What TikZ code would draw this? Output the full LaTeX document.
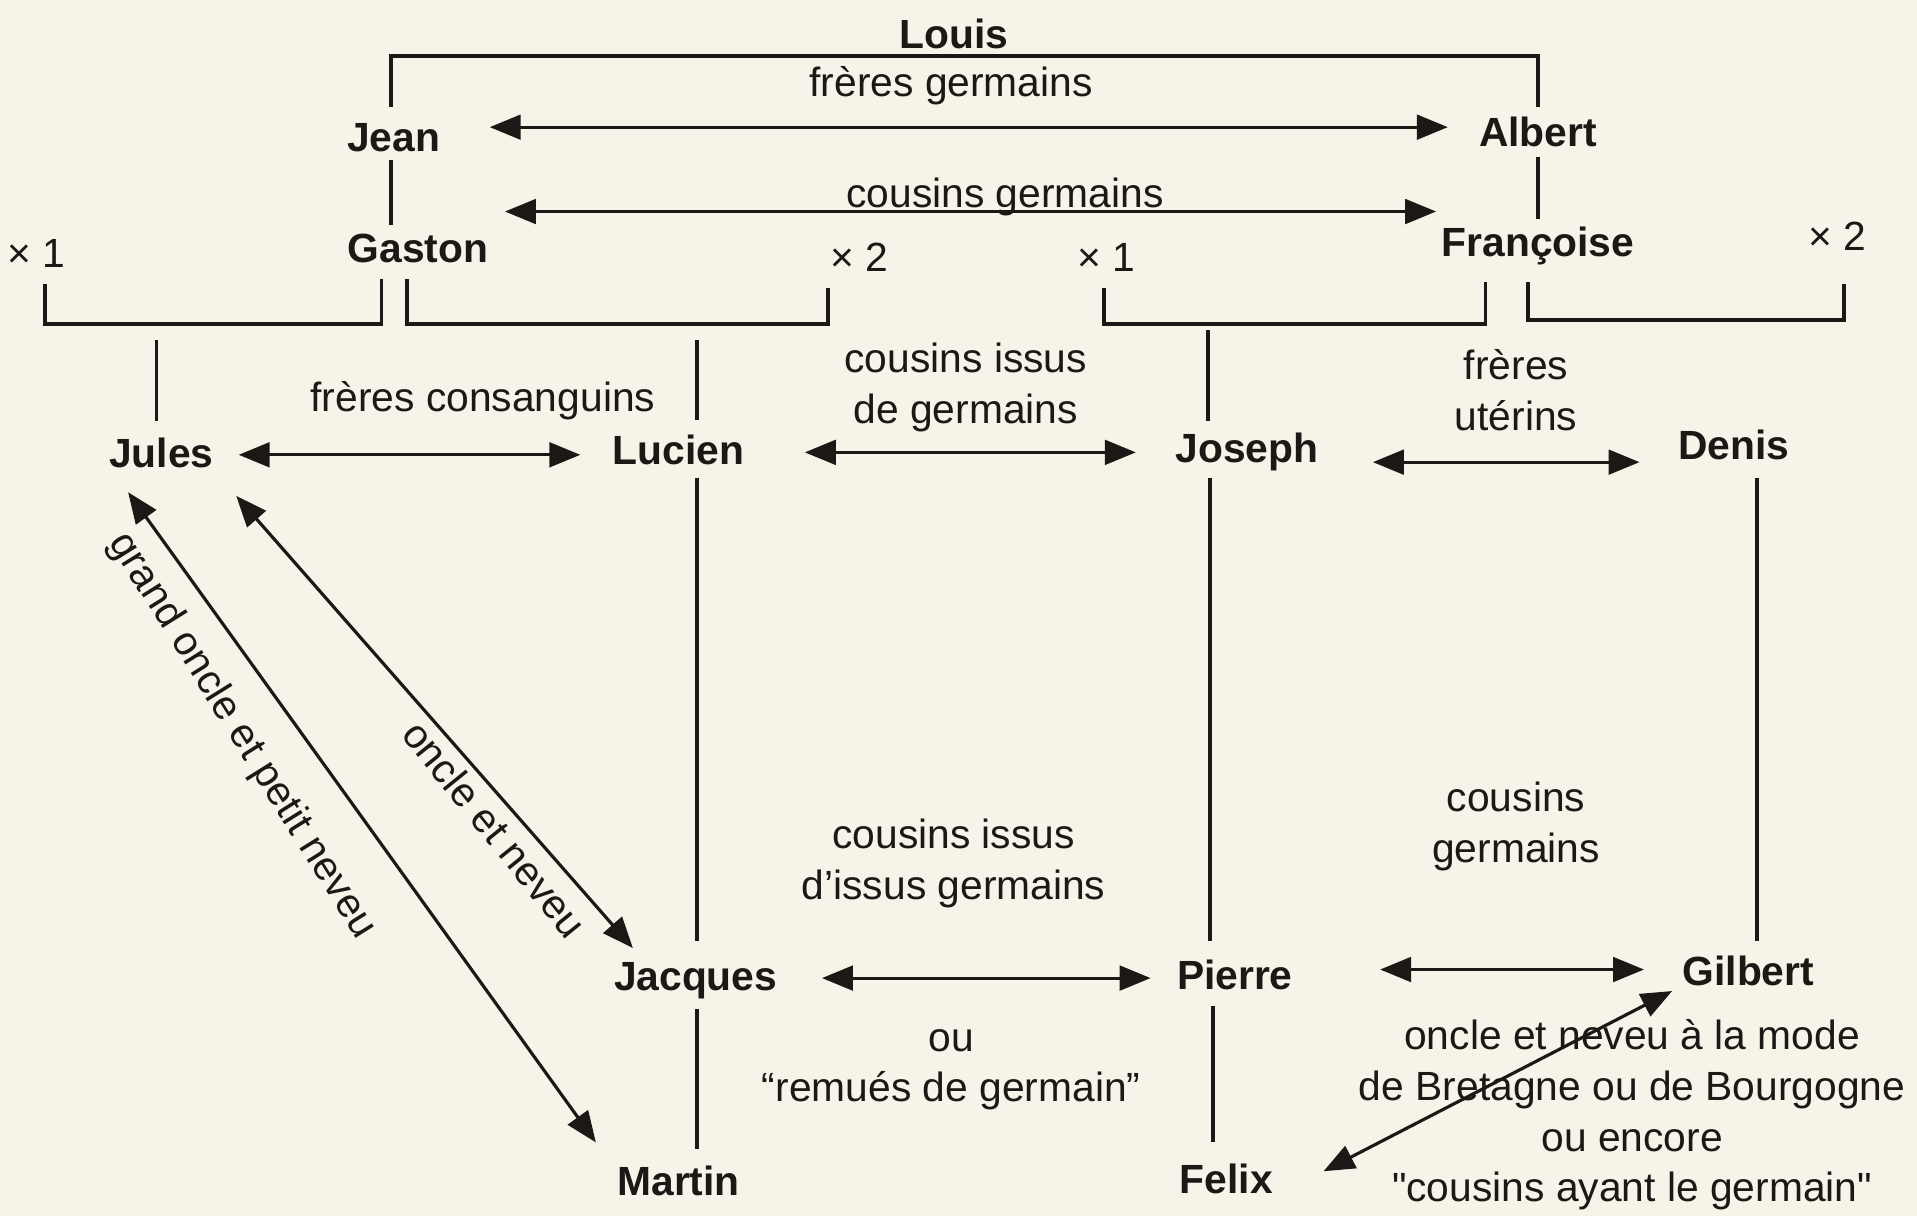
\documentclass[tikz,border=0pt]{standalone}
\usepackage{fontspec}
\setmainfont{Liberation Sans}
\usepackage{xcolor}
\usepackage{tikz}
\usetikzlibrary{positioning,calc,arrows.meta}

\definecolor{paper}{RGB}{246,244,232}
\definecolor{ink}{RGB}{28,24,22}

\begin{document}
\begin{tikzpicture}[x=0.012226cm, y=-0.012226cm,
		every node/.style={text=ink, font=\fontsize{11.6}{14.4}\selectfont},
		person/.style={font=\fontsize{11.6}{14.4}\selectfont\bfseries, inner sep=0pt, text height=8.35pt, text depth=0pt},
		mult/.style={inner sep=0pt, text height=8.35pt, text depth=0pt},
		lab/.style={inner sep=0pt, align=center},
		tree/.style={draw=ink, line width=1.1pt},
		dbl/.style={draw=ink, line width=0.9pt, {Triangle[length=8.8pt,width=7pt]}-{Triangle[length=8.8pt,width=7pt]}}]
	\fill[paper] (0,0) rectangle (1568,995);
	\useasboundingbox (0,0) rectangle (1568,995);

	% the people
	\node[person] (louis) at (780,28) {Louis};
	\node[person] (jean) at (322,112) {Jean};
	\node[person] (albert) at (1258,108) {Albert};
	\node[person] (gaston) at (342,203) {Gaston};
	\node[person] (francoise) at (1258,198) {Françoise};
	\node[mult] (xa) at (30,207) {× 1};
	\node[mult] (xb) at (703,210) {× 2};
	\node[mult] (xc) at (905,210) {× 1};
	\node[mult] (xd) at (1503,193) {× 2};
	\node[person] (jules) at (132,370) {Jules};
	\node[person] (lucien) at (555,368) {Lucien};
	\node[person] (joseph) at (1020,366) {Joseph};
	\node[person] (denis) at (1418,364) {Denis};
	\node[person] (jacques) at (569,798) {Jacques};
	\node[person] (pierre) at (1010,797) {Pierre};
	\node[person] (gilbert) at (1430,794) {Gilbert};
	\node[person] (martin) at (555,966) {Martin};
	\node[person] (felix) at (1003,964) {Felix};

	% the kinships
	\node[lab] (fg) at (778,70) {frères germains};
	\node[lab] (cg) at (822,161) {cousins germains};
	\node[lab] (fc) at (395,328) {frères consanguins};
	\node[lab] (cig) at (790,317) {cousins issus\\de germains};
	\node[lab] (fu) at (1240,319) {frères\\utérins};
	\node[lab] (ciig) at (780,706) {cousins issus\\d'issus germains};
	\node[lab] (cg2) at (1240,676) {cousins\\germains};
	\node[lab] (rdg) at (778,875) {ou\\``remués de germain''};
	\node[lab] (bret) at (1335,912) {oncle et neveu à la mode\\de Bretagne ou de Bourgogne\\ou encore\\\textquotedbl cousins ayant le germain\textquotedbl};
	\node[lab, rotate=-58] (gopn) at (198,602) {grand oncle et petit neveu};
	\node[lab, rotate=-51] (oen) at (405,678) {oncle et neveu};

	% family tree
	\coordinate (lb) at (780,46);
	\coordinate (u1) at (128,265);
	\coordinate (u2) at (570,265);
	\coordinate (u3) at (988,265);
	\coordinate (u4) at (1380,262);
	\draw[tree] ($(jean.north)+(-2,-12)$) |- (lb) -| ($(albert.north)+(0,-8)$);
	\draw[tree] ($(jean.south)+(-2,6)$) -- ($(jean.south |- gaston.north)+(-2,-6)$);
	\draw[tree] ($(albert.south)+(0,8)$) -- ($(francoise.north)+(0,-6)$);
	\draw[tree] ($(xa.south)+(7,13)$) |- (u1) -| ($(gaston.south)+(-30,13)$);
	\draw[tree] ($(u1)+(0,13)$) -- ($(u1 |- jules.north)+(0,-13)$);
	\draw[tree] ($(gaston.south)+(-9,13)$) |- (u2) -| ($(xb.south)+(-26,13)$);
	\draw[tree] ($(u2)+(0,13)$) -- ($(u2 |- lucien.north)+(0,-12)$);
	\draw[tree] ($(u2 |- lucien.south)+(0,10)$) -- ($(u2 |- jacques.north)+(0,-16)$);
	\draw[tree] ($(u2 |- jacques.south)+(0,15)$) -- ($(u2 |- martin.north)+(0,-14)$);
	\draw[tree] ($(xc.south)+(-2,13)$) |- (u3) -| ($(francoise.south)+(-43,20)$);
	\draw[tree] ($(u3)+(0,5)$) -- ($(u3 |- joseph.north)+(0,-9)$);
	\draw[tree] ($(u3 |- joseph.south)+(2,12)$) -- ($(u3 |- pierre.north)+(2,-15)$);
	\draw[tree] ($(u3 |- pierre.south)+(4,13)$) -- ($(u3 |- felix.north)+(4,-17)$);
	\draw[tree] ($(francoise.south)+(-8,20)$) |- (u4) -| ($(xd.south)+(5,27)$);
	\draw[tree] ($(denis.south)+(19,14)$) -- ($(denis.south |- gilbert.north)+(19,-12)$);

	% arrows
	\draw[dbl] ($(jean.east)+(40,-8)$) -- ($(albert.west)+(-25,-4)$);
	\draw[dbl] ($(gaston.east)+(13,-30)$) -- ($(francoise.west)+(-4,-25)$);
	\draw[dbl] ($(jules.east)+(20,2)$) -- ($(lucien.west)+(-26,4)$);
	\draw[dbl] ($(lucien.east)+(49,2)$) -- ($(joseph.west)+(-32,4)$);
	\draw[dbl] ($(joseph.east)+(44,12)$) -- ($(denis.west)+(-31,14)$);
	\draw[dbl] ($(jacques.east)+(36,2)$) -- ($(pierre.west)+(-21,3)$);
	\draw[dbl] ($(pierre.east)+(71,-4)$) -- ($(gilbert.west)+(-31,-1)$);
	\draw[dbl] ($(jules.south east)+(18,23)$) -- ($(jacques.north west)+(16,-10)$);
	\draw[dbl] ($(jules.south west)+(16,20)$) -- ($(martin.north west)+(-17,-19)$);
	\draw[dbl] ($(felix.east)+(41,-6)$) -- ($(gilbert.south west)+(-8,4)$);
\end{tikzpicture}
\end{document}
